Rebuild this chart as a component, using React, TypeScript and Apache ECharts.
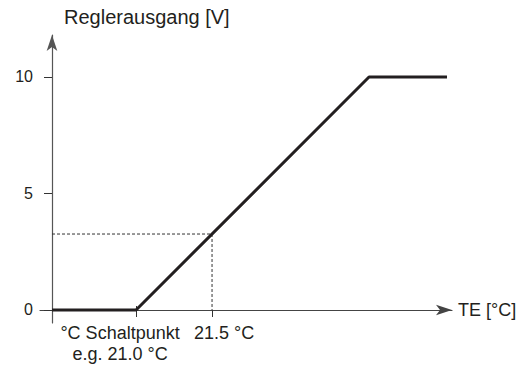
import React, { useEffect, useRef } from "react";
import * as echarts from "echarts";

// Characteristic curve: controller output [V] vs. temperature TE [°C]
const curveTemps = [20.447, 21.0, 22.533, 23.046];
const curveVolts = [0, 0, 10, 10];

// Helper lines (dashed) to the 21.5 °C reading
const helperTemps = [20.447, 21.5, 21.5];
const helperVolts = [3.26, 3.26, 0];

const yTicks = [0, 5, 10];
const xTicks = [21.0, 21.5];
const xTickLabels = ["°C Schaltpunkt\ne.g. 21.0 °C", "21.5 °C"];
const xCrossTicks = [21.0];

const yName = "Reglerausgang [V]";
const xName = "TE [°C]";

const X_MIN = 20.368;
const X_MAX = 23.079;

const FONT = "'Liberation Sans', Arial, sans-serif";

export default function App() {
  const ref = useRef<HTMLDivElement>(null);

  useEffect(() => {
    document.body.style.margin = "0";
    if (!ref.current) return;
    const chart = echarts.init(ref.current, undefined, { renderer: "svg" });

    const curve = curveTemps.map((t, i) => [t, curveVolts[i]]);
    const helper = helperTemps.map((t, i) => [t, helperVolts[i]]);

    // blank labels at both ends keep ECharts' min/max overlap check away from the real labels
    const labelValues = [X_MIN, ...xTicks, X_MAX];

    chart.setOption({
      animation: false,
      backgroundColor: "#ffffff",
      textStyle: { fontFamily: FONT },
      grid: {
        left: 40,
        right: 71,
        top: 35,
        bottom: 44,
        containLabel: false,
        outerBoundsMode: "none",
      },
      xAxis: [
        {
          type: "value",
          position: "bottom",
          offset: -13,
          min: X_MIN,
          max: X_MAX,
          splitLine: { show: false },
          axisLine: {
            onZero: false,
            lineStyle: { color: "#444", width: 1.2 },
            symbol: ["none", "arrow"],
            symbolSize: [8, 16],
          },
          axisTick: {
            show: true,
            customValues: xTicks,
            length: 7,
            lineStyle: { color: "#333", width: 1 },
          },
          axisLabel: {
            show: true,
            customValues: labelValues,
            margin: 12,
            showMinLabel: true,
            showMaxLabel: true,
            formatter: (v: number) => {
              const idx = xTicks.findIndex((t) => Math.abs(t - v) < 1e-6);
              if (idx === 0) {
                const [l1, l2] = xTickLabels[0].split("\n");
                return `{a|${l1}}\n{a|${l2}}`;
              }
              if (idx === 1) return `{b|${xTickLabels[1]}}`;
              return " ";
            },
            rich: {
              a: {
                fontSize: 18,
                fontFamily: FONT,
                color: "#231f20",
                lineHeight: 21,
                padding: [0, 32, 0, 0],
              },
              b: {
                fontSize: 18,
                fontFamily: FONT,
                color: "#231f20",
                lineHeight: 21,
                padding: [0, 0, 0, 24],
              },
            },
          },
          name: xName,
          nameLocation: "end",
          nameGap: 6,
          nameMoveOverlap: false,
          nameTextStyle: {
            fontSize: 18,
            fontFamily: FONT,
            color: "#231f20",
            padding: [0, 0, 34, 0],
          },
        },
        {
          // upper half of the switching-point tick (crosses the axis)
          type: "value",
          position: "bottom",
          offset: -13,
          min: X_MIN,
          max: X_MAX,
          splitLine: { show: false },
          axisLine: { show: false, onZero: false },
          axisTick: {
            show: true,
            inside: true,
            customValues: xCrossTicks,
            length: 4,
            lineStyle: { color: "#333", width: 1 },
          },
          axisLabel: { show: false },
        },
      ],
      yAxis: {
        type: "value",
        min: -0.558,
        max: 11.8,
        offset: -12,
        splitLine: { show: false },
        axisLine: {
          onZero: false,
          lineStyle: { color: "#555", width: 1.2 },
          symbol: ["none", "arrow"],
          symbolSize: [8, 16],
        },
        axisTick: {
          show: true,
          customValues: yTicks,
          length: 8,
          lineStyle: { color: "#333", width: 1 },
        },
        axisLabel: {
          show: true,
          customValues: yTicks,
          margin: 19,
          fontSize: 16,
          fontFamily: FONT,
          color: "#231f20",
        },
        name: yName,
        nameLocation: "end",
        nameGap: 8,
        nameMoveOverlap: false,
        nameTextStyle: {
          fontSize: 20,
          fontFamily: FONT,
          color: "#231f20",
          align: "left",
          padding: [0, 0, 0, 12],
        },
      },
      series: [
        {
          type: "line",
          data: helper,
          symbol: "none",
          lineStyle: { color: "#333", width: 1, type: [3, 2] },
          z: 1,
        },
        {
          type: "line",
          data: curve,
          symbol: "none",
          lineStyle: { color: "#231f20", width: 3 },
          z: 2,
        },
      ],
    });

    return () => chart.dispose();
  }, []);

  return <div ref={ref} style={{ width: 523, height: 367 }} />;
}
